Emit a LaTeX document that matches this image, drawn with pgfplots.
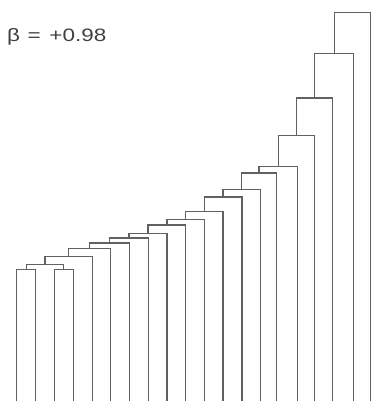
\documentclass[border=0pt]{standalone}
\usepackage{fontspec}
\setmainfont{Liberation Sans}
\usepackage{pgfplots}
\pgfplotsset{compat=1.18}
\begin{document}
\begin{tikzpicture}
\begin{axis}[
  width=374pt, height=402pt, scale only axis,
  xmin=0, xmax=374, ymin=0, ymax=402,
  axis lines=none, ticks=none, clip=false,
  dend/.style={draw=black!62, line width=1.3pt, mark=none, line join=miter, solid},
]
\path (rel axis cs:0,0) rectangle (rel axis cs:1,1);
\addplot[dend] coordinates {(16.7,0)(16.7,132)(35.7,132)(35.7,0)};
\addplot[dend] coordinates {(54.3,0)(54.3,132)(73.3,132)(73.3,0)};
\addplot[dend] coordinates {(26.2,132)(26.2,137)(63.8,137)(63.8,132)};
\addplot[dend] coordinates {(45,137)(45,145.3)(92.3,145.3)(92.3,0)};
\addplot[dend] coordinates {(68.65,145.3)(68.65,153)(111,153)(111,0)};
\addplot[dend] coordinates {(89.8,153)(89.8,158.5)(130,158.5)(130,0)};
\addplot[dend] coordinates {(109.9,158.5)(109.9,163.7)(148.7,163.7)(148.7,0)};
\addplot[dend] coordinates {(129.3,163.7)(129.3,168)(167.3,168)(167.3,0)};
\addplot[dend] coordinates {(148.3,168)(148.3,176.5)(186,176.5)(186,0)};
\addplot[dend] coordinates {(167.15,176.5)(167.15,182)(204.7,182)(204.7,0)};
\addplot[dend] coordinates {(185.9,182)(185.9,190.3)(223.3,190.3)(223.3,0)};
\addplot[dend] coordinates {(204.6,190.3)(204.6,204.7)(242.3,204.7)(242.3,0)};
\addplot[dend] coordinates {(223.45,204.7)(223.45,212)(261,212)(261,0)};
\addplot[dend] coordinates {(242.2,212)(242.2,228.7)(276.7,228.7)(276.7,0)};
\addplot[dend] coordinates {(259.45,228.7)(259.45,235)(298.3,235)(298.3,0)};
\addplot[dend] coordinates {(278.9,235)(278.9,266.3)(315,266.3)(315,0)};
\addplot[dend] coordinates {(296.95,266.3)(296.95,303.7)(333.3,303.7)(333.3,0)};
\addplot[dend] coordinates {(315.1,303.7)(315.1,348.7)(354.3,348.7)(354.3,0)};
\addplot[dend] coordinates {(334.7,348.7)(334.7,389.3)(371,389.3)(371,0)};
\node[anchor=west, inner sep=0pt, text=black!75, font=\fontsize{18}{20}\selectfont, xscale=1.25] at (axis cs:7,365) {β\hspace{6pt}=\hspace{7pt}+0.98};
\end{axis}
\end{tikzpicture}
\end{document}
